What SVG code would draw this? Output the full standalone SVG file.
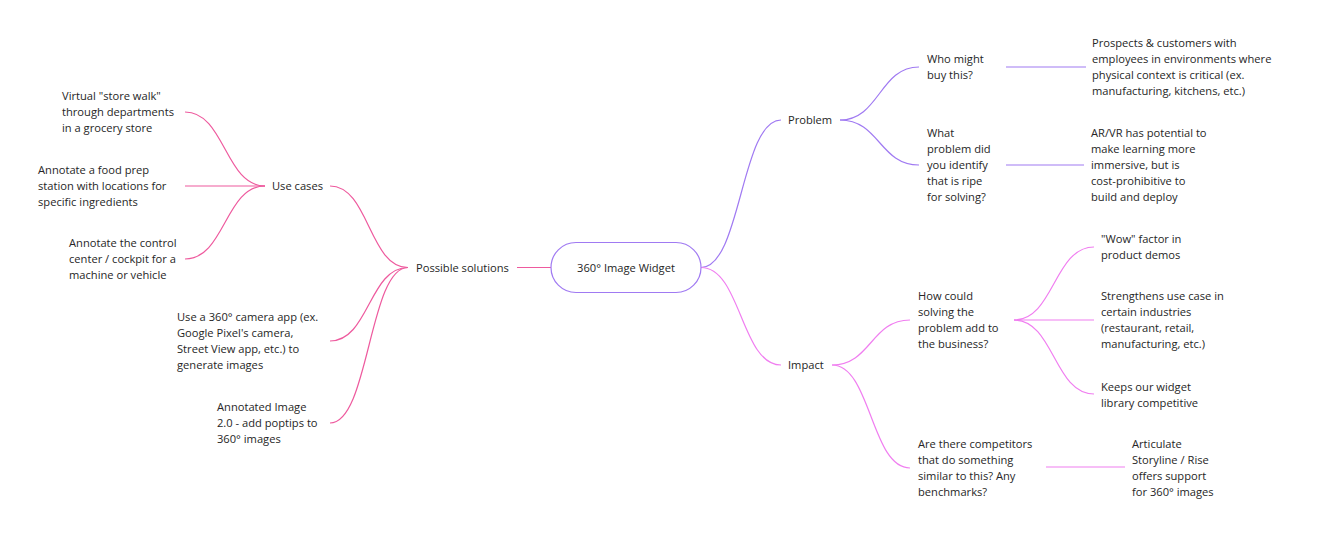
<svg xmlns="http://www.w3.org/2000/svg" width="1333" height="534" viewBox="0 0 1333 534">
<style>
  text { font-family: "Open Sans", "Noto Sans", "Liberation Sans", sans-serif; font-size: 11.15px; fill: #262626; }
  .c { fill: none; stroke-width: 1.2; }
  .pink { stroke: #ee5a9e; }
  .purple { stroke: #a07af2; }
  .mag { stroke: #f07ef0; }
  .root { fill: #ffffff; stroke: #a07af2; stroke-width: 1.2; }
</style>
<rect width="1333" height="534" fill="#ffffff"/>
<g id="connectors">
  <path class="c pink" d="M185,112 C225,112 225,186 265,186"/>
  <path class="c pink" d="M185,186 L265,186"/>
  <path class="c pink" d="M185,259 C225,259 225,186 265,186"/>
  <path class="c pink" d="M330,186 C369,186 369,267.5 408,267.5"/>
  <path class="c pink" d="M330,341 C369,341 369,267.5 408,267.5"/>
  <path class="c pink" d="M330,423 C369,423 369,267.5 408,267.5"/>
  <path class="c pink" d="M517,267.5 L551,267.5"/>
  <path class="c purple" d="M701,267.5 C741,267.5 741,120 781,120"/>
  <path class="c mag" d="M701,267.5 C741,267.5 741,365 781,365"/>
  <path class="c purple" d="M840,120 C879.5,120 879.5,67 919,67"/>
  <path class="c purple" d="M840,120 C879.5,120 879.5,165 919,165"/>
  <path class="c purple" d="M1006,67 L1086,67"/>
  <path class="c purple" d="M1006,165 L1084,165"/>
  <path class="c mag" d="M832,365 C871,365 871,320 910,320"/>
  <path class="c mag" d="M832,365 C871,365 871,468 910,468"/>
  <path class="c mag" d="M1014,320 C1054,320 1054,247 1094,247"/>
  <path class="c mag" d="M1014,320 L1094,320"/>
  <path class="c mag" d="M1014,320 C1054,320 1054,394 1094,394"/>
  <path class="c mag" d="M1046,467 L1125,467"/>
</g>
<g id="root">
  <rect class="root" x="551" y="242.5" width="150" height="50" rx="25" ry="25"/>
  <text x="626" y="271.5" text-anchor="middle">360° Image Widget</text>
</g>
<g id="possible-solutions">
  <text x="416" y="271.5">Possible solutions</text>
</g>
<g id="use-cases">
  <text x="272" y="190">Use cases</text>
</g>
<g id="store-walk">
  <text x="62" y="100">Virtual "store walk"</text>
  <text x="62" y="116">through departments</text>
  <text x="62" y="132">in a grocery store</text>
</g>
<g id="food-prep">
  <text x="38" y="174">Annotate a food prep</text>
  <text x="38" y="190">station with locations for</text>
  <text x="38" y="206">specific ingredients</text>
</g>
<g id="control-center">
  <text x="69" y="247">Annotate the control</text>
  <text x="69" y="263">center / cockpit for a</text>
  <text x="69" y="279">machine or vehicle</text>
</g>
<g id="camera-app">
  <text x="177" y="321">Use a 360° camera app (ex.</text>
  <text x="177" y="337">Google Pixel's camera,</text>
  <text x="177" y="353">Street View app, etc.) to</text>
  <text x="177" y="369">generate images</text>
</g>
<g id="annotated-image">
  <text x="217" y="411">Annotated Image</text>
  <text x="217" y="427">2.0 - add poptips to</text>
  <text x="217" y="443">360° images</text>
</g>
<g id="problem">
  <text x="788" y="124">Problem</text>
</g>
<g id="impact">
  <text x="788" y="369">Impact</text>
</g>
<g id="who-might-buy">
  <text x="927" y="63">Who might</text>
  <text x="927" y="79">buy this?</text>
</g>
<g id="what-problem">
  <text x="927" y="137">What</text>
  <text x="927" y="153">problem did</text>
  <text x="927" y="169">you identify</text>
  <text x="927" y="185">that is ripe</text>
  <text x="927" y="201">for solving?</text>
</g>
<g id="prospects">
  <text x="1092" y="47">Prospects &amp; customers with</text>
  <text x="1092" y="63">employees in environments where</text>
  <text x="1092" y="79">physical context is critical (ex.</text>
  <text x="1092" y="95">manufacturing, kitchens, etc.)</text>
</g>
<g id="arvr">
  <text x="1091" y="137">AR/VR has potential to</text>
  <text x="1091" y="153">make learning more</text>
  <text x="1091" y="169">immersive, but is</text>
  <text x="1091" y="185">cost-prohibitive to</text>
  <text x="1091" y="201">build and deploy</text>
</g>
<g id="how-could">
  <text x="918" y="300">How could</text>
  <text x="918" y="316">solving the</text>
  <text x="918" y="332">problem add to</text>
  <text x="918" y="348">the business?</text>
</g>
<g id="competitors">
  <text x="918" y="448">Are there competitors</text>
  <text x="918" y="464">that do something</text>
  <text x="918" y="480">similar to this? Any</text>
  <text x="918" y="496">benchmarks?</text>
</g>
<g id="wow">
  <text x="1101" y="243">"Wow" factor in</text>
  <text x="1101" y="259">product demos</text>
</g>
<g id="strengthens">
  <text x="1101" y="300">Strengthens use case in</text>
  <text x="1101" y="316">certain industries</text>
  <text x="1101" y="332">(restaurant, retail,</text>
  <text x="1101" y="348">manufacturing, etc.)</text>
</g>
<g id="keeps">
  <text x="1101" y="391">Keeps our widget</text>
  <text x="1101" y="407">library competitive</text>
</g>
<g id="articulate">
  <text x="1132" y="448">Articulate</text>
  <text x="1132" y="464">Storyline / Rise</text>
  <text x="1132" y="480">offers support</text>
  <text x="1132" y="496">for 360° images</text>
</g>
</svg>
